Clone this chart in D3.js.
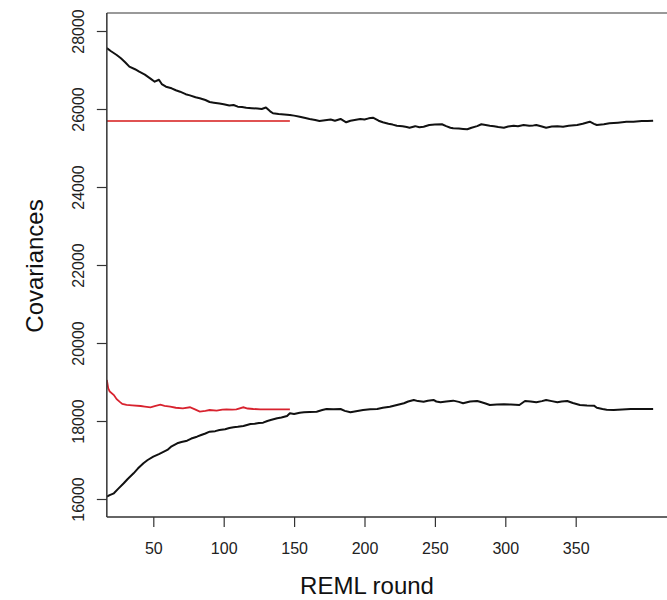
<!DOCTYPE html>
<html>
<head>
<meta charset="utf-8">
<script src="https://cdn.jsdelivr.net/npm/d3@7"></script>
<style>
  body { margin: 0; background: #fff; }
  svg { font-family: "Liberation Sans", Arial, sans-serif; }
</style>
</head>
<body>
<script>
// tick labels
var xTicks = [50, 100, 150, 200, 250, 300, 350];
var yTicks = [16000, 18000, 20000, 22000, 24000, 26000, 28000];

// black line, top
var upperRounds = [17,20,24,27,30,33,37,40,44,48,51,54,56,59,63,66,69,73,76,80,83,87,90,93,97,100,104,107,110,113,116,120,124,127,130,133,135,139,143,147,150,154,158,161,165,168,172,176,179,183,187,190,193,197,200,203,206,210,213,217,220,223,227,230,232,236,239,242,246,250,255,258,261,263,267,270,273,276,280,283,286,289,292,295,299,302,306,309,313,317,320,322,326,329,333,337,341,345,351,355,360,363,365,370,374,380,386,391,397,401,405];
var upperValues = [27560,27480,27385,27300,27200,27085,27020,26956,26880,26780,26700,26750,26640,26572,26530,26480,26444,26380,26350,26300,26274,26230,26180,26162,26140,26120,26090,26103,26060,26050,26033,26020,26010,26000,26040,25940,25890,25870,25860,25846,25830,25803,25770,25744,25720,25692,25710,25730,25700,25744,25659,25700,25720,25744,25730,25760,25777,25700,25659,25620,25600,25572,25560,25540,25521,25560,25530,25546,25590,25600,25608,25560,25520,25505,25500,25490,25480,25520,25560,25608,25590,25572,25560,25540,25521,25550,25572,25560,25590,25572,25580,25590,25550,25521,25550,25560,25546,25570,25590,25620,25675,25620,25590,25610,25634,25650,25670,25675,25690,25695,25700];

// black line, bottom
var lowerRounds = [17,19,22,25,29,32,36,39,43,46,50,54,60,63,67,70,74,77,81,84,87,90,94,97,101,104,107,110,114,119,122,125,128,131,134,138,141,145,147,150,154,157,161,166,170,173,178,183,186,190,194,199,204,209,213,218,223,228,231,235,238,242,245,249,251,254,258,263,267,270,275,280,282,286,289,294,299,304,310,314,318,322,326,329,333,337,340,344,348,353,358,363,365,369,372,377,383,389,396,405];
var lowerValues = [16059,16100,16146,16260,16403,16520,16659,16780,16916,17000,17085,17150,17257,17350,17428,17460,17495,17550,17598,17640,17680,17726,17740,17769,17790,17820,17839,17850,17872,17923,17930,17950,17957,18000,18030,18070,18090,18129,18197,18180,18213,18223,18230,18239,18280,18308,18300,18308,18260,18223,18250,18282,18300,18308,18340,18367,18410,18454,18500,18539,18510,18495,18520,18539,18500,18480,18500,18522,18490,18454,18500,18513,18495,18450,18411,18420,18429,18420,18411,18513,18500,18480,18510,18539,18510,18480,18500,18513,18460,18411,18400,18393,18340,18308,18290,18282,18295,18308,18305,18308];

// red line, top (flat)
var redUpperRounds = [17, 147];
var redUpperValues = [25692, 25692];

// red line, bottom
var redLowerRounds = [17,18,19,22,24,26,28,31,35,41,44,48,51,55,58,62,66,71,76,80,83,87,90,95,99,102,106,109,114,117,121,126,130,140,147];
var redLowerValues = [19051,18839,18760,18667,18560,18496,18440,18411,18400,18385,18370,18352,18380,18419,18390,18367,18340,18326,18352,18290,18239,18260,18282,18265,18290,18300,18290,18300,18352,18320,18308,18300,18300,18300,18300];

var W = 667, H = 600;

var svg = d3.select("body").append("svg")
  .attr("width", W)
  .attr("height", H);

var x = d3.scaleLinear().domain([0, 400]).range([82.9, 646.1]);
var y = d3.scaleLinear().domain([16000, 28000]).range([499, 31]);

var plotL = x(17), plotR = x(436), plotT = 13, plotB = 517;

svg.append("clipPath").attr("id", "plotclip")
  .append("rect")
  .attr("x", plotL).attr("y", plotT)
  .attr("width", plotR - plotL).attr("height", plotB - plotT);

function pairs(rs, vs) {
  return rs.map(function(r, i) { return [r, vs[i]]; });
}

var line = d3.line()
  .x(function(d) { return x(d[0]); })
  .y(function(d) { return y(d[1]); });

var g = svg.append("g").attr("clip-path", "url(#plotclip)");

g.append("path")
  .attr("d", line(pairs(redUpperRounds, redUpperValues)))
  .attr("fill", "none").attr("stroke", "#e05252").attr("stroke-width", 2);
g.append("path")
  .attr("d", line(pairs(redLowerRounds, redLowerValues)))
  .attr("fill", "none").attr("stroke", "#d8222e").attr("stroke-width", 1.8);
g.append("path")
  .attr("d", line(pairs(upperRounds, upperValues)))
  .attr("fill", "none").attr("stroke", "#111").attr("stroke-width", 2)
  .attr("stroke-linejoin", "round");
g.append("path")
  .attr("d", line(pairs(lowerRounds, lowerValues)))
  .attr("fill", "none").attr("stroke", "#111").attr("stroke-width", 2)
  .attr("stroke-linejoin", "round");

// frame
svg.append("line").attr("x1", plotL).attr("x2", plotR).attr("y1", plotT).attr("y2", plotT)
  .attr("stroke", "#999").attr("stroke-width", 2);
svg.append("line").attr("x1", plotL).attr("x2", plotL).attr("y1", plotT).attr("y2", plotB)
  .attr("stroke", "#333").attr("stroke-width", 1.5);
svg.append("line").attr("x1", plotL).attr("x2", plotR).attr("y1", plotB).attr("y2", plotB)
  .attr("stroke", "#333").attr("stroke-width", 1.5);

// axes
var xAxis = svg.append("g")
  .attr("transform", "translate(0," + plotB + ")")
  .call(d3.axisBottom(x).tickValues(xTicks).tickSize(10).tickPadding(16));
xAxis.select(".domain").remove();
xAxis.selectAll("line").attr("stroke", "#333").attr("stroke-width", 1.2);
xAxis.selectAll("text").attr("font-size", 16).attr("fill", "#222")
  .attr("font-family", "Liberation Sans, Arial, sans-serif");

var yAxis = svg.append("g")
  .attr("transform", "translate(" + plotL + ",0)")
  .call(d3.axisLeft(y).tickValues(yTicks).tickSize(10).tickFormat(d3.format("d")));
yAxis.select(".domain").remove();
yAxis.selectAll("line").attr("stroke", "#333").attr("stroke-width", 1.2);
yAxis.selectAll("text")
  .attr("x", null).attr("dy", null)
  .attr("text-anchor", "middle")
  .attr("transform", "translate(-19,0) rotate(-90)")
  .attr("dy", "-0.25em")
  .attr("font-size", 16).attr("fill", "#222")
  .attr("font-family", "Liberation Sans, Arial, sans-serif");

// axis titles
svg.append("text")
  .attr("x", 367).attr("y", 594)
  .attr("text-anchor", "middle")
  .attr("font-size", 24)
  .attr("fill", "#111")
  .text("REML round");

svg.append("text")
  .attr("transform", "translate(43,266) rotate(-90)")
  .attr("text-anchor", "middle")
  .attr("font-size", 24)
  .attr("fill", "#111")
  .text("Covariances");
</script>
</body>
</html>
